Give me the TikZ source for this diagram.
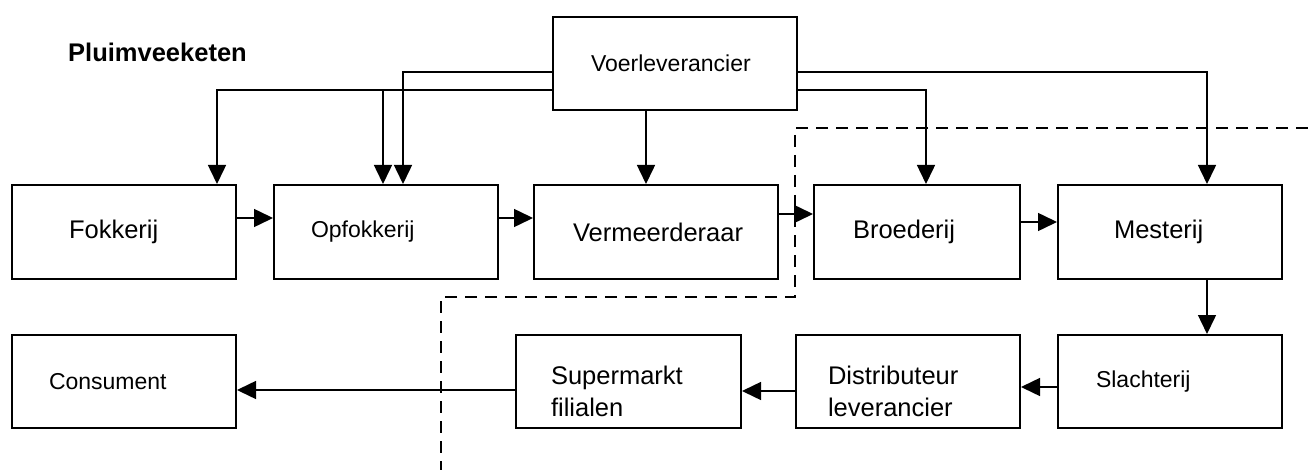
\documentclass[tikz,border=0pt]{standalone}
\usepackage{fontspec}
\setmainfont{Liberation Sans}
\usetikzlibrary{arrows.meta}

\begin{document}
\begin{tikzpicture}[x=1pt,y=-1pt,
        box/.style={draw, line width=2pt, rectangle, anchor=north west, inner sep=0pt, align=left, minimum height=94pt, font=\fontsize{25.5}{32}\selectfont},
        small/.style={font=\fontsize{23}{28}\selectfont},
        arr/.style={line width=1.5pt, -{Triangle[length=19pt,width=18pt]}},
        cut/.style={line width=1.5pt, dash pattern=on 12pt off 8pt}]
        \useasboundingbox (0,0) rectangle (1308,473);

        % Text Node
        \node[anchor=west, inner sep=0pt, font=\bfseries\fontsize{25.5}{30}\selectfont] (title) at (68,52) {Pluimveeketen};

        %Shape: Rectangle
        \node[box, small, minimum width=244pt, minimum height=93pt, text width=168pt] (voer) at (552,16) {Voerleverancier};
        %Shape: Rectangle (upper row)
        \node[box, minimum width=224pt, text width=110pt] (fok) at (11,184) {Fokkerij};
        \node[box, small, minimum width=224pt, text width=150pt] (opfok) at (273,184) {Opfokkerij};
        \node[box, minimum width=244pt, text width=166pt] (verm) at (533,184) {Vermeerderaar};
        \node[box, minimum width=206pt, text width=128pt] (broed) at (813,184) {Broederij};
        \node[box, minimum width=224pt, text width=112pt] (mest) at (1057,184) {Mesterij};
        %Shape: Rectangle (lower row)
        \node[box, small, minimum width=224pt, minimum height=93pt, text width=150pt] (cons) at (11,334) {Consument};
        \node[box, minimum width=225pt, minimum height=93pt, text width=155pt, text height=38pt] (super) at (515,334) {Supermarkt\\filialen};
        \node[box, minimum width=224pt, minimum height=93pt, text width=160pt, text height=38pt] (distr) at (795,334) {Distributeur\\leverancier};
        \node[box, small, minimum width=224pt, minimum height=93pt, text width=148pt] (slacht) at (1057,334) {Slachterij};

        %Straight Lines (feed)
        \draw[arr] (voer.west |- 0,72) -| (opfok.north -| 403,0);
        \draw[arr] (voer.west |- 0,90) -| (fok.north -| 217,0);
        \coordinate (split) at (383,90);
        \draw[arr] (split) -- (opfok.north -| split);
        \draw[arr] (voer.south -| 646,0) -- (verm.north -| 646,0);
        \draw[arr] (voer.east |- 0,90) -| (broed.north -| 926,0);
        \draw[arr] (voer.east |- 0,72) -| (mest.north -| 1207,0);

        %Straight Lines (chain)
        \draw[arr] (fok.east |- 0,218) -- (opfok.west |- 0,218);
        \draw[arr] (opfok.east |- 0,218) -- (verm.west |- 0,218);
        \draw[arr] (verm.east |- 0,214) -- (broed.west |- 0,214);
        \draw[arr] (broed.east |- 0,222) -- (mest.west |- 0,222);
        \draw[arr] (mest.south -| 1207,0) -- (slacht.north -| 1207,0);
        \draw[arr] (slacht.west |- 0,387) -- (distr.east |- 0,387);
        \draw[arr] (distr.west |- 0,391) -- (super.east |- 0,391);
        \draw[arr] (super.west |- 0,390) -- (cons.east |- 0,390);

        %Dashed Lines
        \draw[cut] (1308,128) -- (795,128) -- (795,297) -- (441,297) -- (441,470);
\end{tikzpicture}
\end{document}
